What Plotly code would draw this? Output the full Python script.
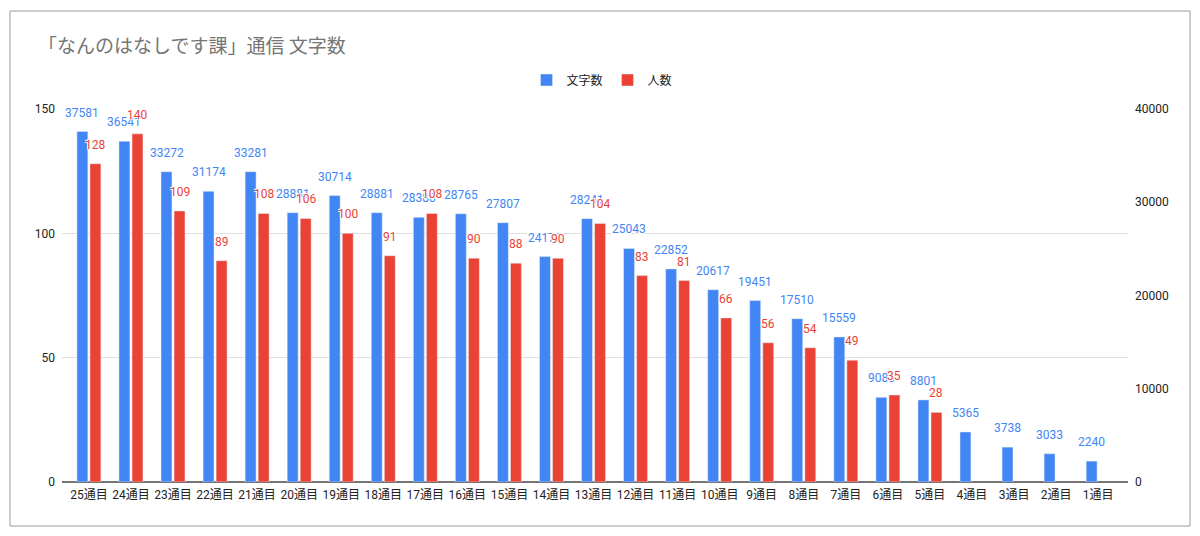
import plotly.graph_objects as go

categories = [f"{n}通目" for n in range(25, 0, -1)]
moji = [37581, 36541, 33272, 31174, 33281, 28881, 30714, 28881, 28380, 28765,
        27807, 24170, 28241, 25043, 22852, 20617, 19451, 17510, 15559, 9083,
        8801, 5365, 3738, 3033, 2240]
ninzu = [128, 140, 109, 89, 108, 106, 100, 91, 108, 90,
         88, 90, 104, 83, 81, 66, 56, 54, 49, 35,
         28, None, None, None, None]

BLUE = "#4285F4"
RED = "#EA4335"
FONT = "Roboto, 'Noto Sans CJK JP', sans-serif"

W_BAR = 0.26
OFF_B = -0.285
OFF_R = 0.025

fig = go.Figure()
fig.add_trace(go.Bar(x=categories, y=moji, name="文字数", marker_color=BLUE,
                     yaxis="y2", width=W_BAR, offset=OFF_B))
fig.add_trace(go.Bar(x=categories, y=ninzu, name="人数", marker_color=RED,
                     yaxis="y", width=W_BAR, offset=OFF_R))

shadow = "1px 1px 0 #fff, -1px -1px 0 #fff, 1px -1px 0 #fff, -1px 1px 0 #fff"
annos = []
for i, v in enumerate(moji):
    annos.append(dict(x=i + OFF_B + W_BAR / 2, y=v, xref="x", yref="y2",
                      text=str(v), showarrow=False, yanchor="bottom", yshift=10,
                      font=dict(family=FONT, size=12, color=BLUE, shadow=shadow)))
for i, v in enumerate(ninzu):
    if v is None:
        continue
    annos.append(dict(x=i + OFF_R + W_BAR / 2, y=v, xref="x", yref="y",
                      text=str(v), showarrow=False, yanchor="bottom", yshift=10,
                      font=dict(family=FONT, size=12, color=RED, shadow=shadow)))

L, R, T, B = 62, 1128, 109, 482
PW, PH = R - L, B - T

fig.update_layout(
    width=1200, height=536,
    margin=dict(l=L, r=1200 - R, t=T, b=536 - B, pad=0),
    paper_bgcolor="white", plot_bgcolor="white",
    font=dict(family=FONT, size=12, color="#222222"),
    title=dict(text="「なんのはなしです課」通信 文字数", x=38 / 1200, xanchor="left",
               y=1 - 46 / 536, yanchor="middle",
               font=dict(family="'Noto Sans CJK JP', sans-serif", size=19, color="#757575")),
    showlegend=True,
    legend=dict(orientation="h", x=0.5 + 7 / PW, xanchor="center", y=(B - 80) / PH,
                yanchor="middle",
                font=dict(family="'Noto Sans CJK JP', sans-serif", size=12, color="#222222"),
                itemwidth=30),
    xaxis=dict(type="category", range=[-0.64, 24.71], showgrid=False, ticks="",
               tickfont=dict(size=12, color="#222222"), showline=False, zeroline=False,
               ticklabelstandoff=4),
    yaxis=dict(range=[0, 150], dtick=50, showgrid=True, gridcolor="#e0e0e0", gridwidth=1,
               zeroline=True, zerolinecolor="#757575", zerolinewidth=2,
               tickfont=dict(size=12, color="#222222"), ticks="", ticklabelstandoff=6),
    yaxis2=dict(range=[0, 40000], dtick=10000, tickformat="d", overlaying="y", side="right",
                showgrid=False, zeroline=False, tickfont=dict(size=12, color="#222222"),
                ticks="", ticklabelstandoff=6),
    annotations=annos,
    shapes=[dict(type="rect", xref="paper", yref="paper",
                 x0=(10 - L) / PW, x1=(1190 - L) / PW,
                 y0=(B - 526) / PH, y1=(B - 11) / PH,
                 line=dict(color="#9e9e9e", width=1), fillcolor="rgba(0,0,0,0)", layer="below")],
)

fig.write_html("out.html", config={"displayModeBar": False},
               post_script="document.body.style.margin='0';")
